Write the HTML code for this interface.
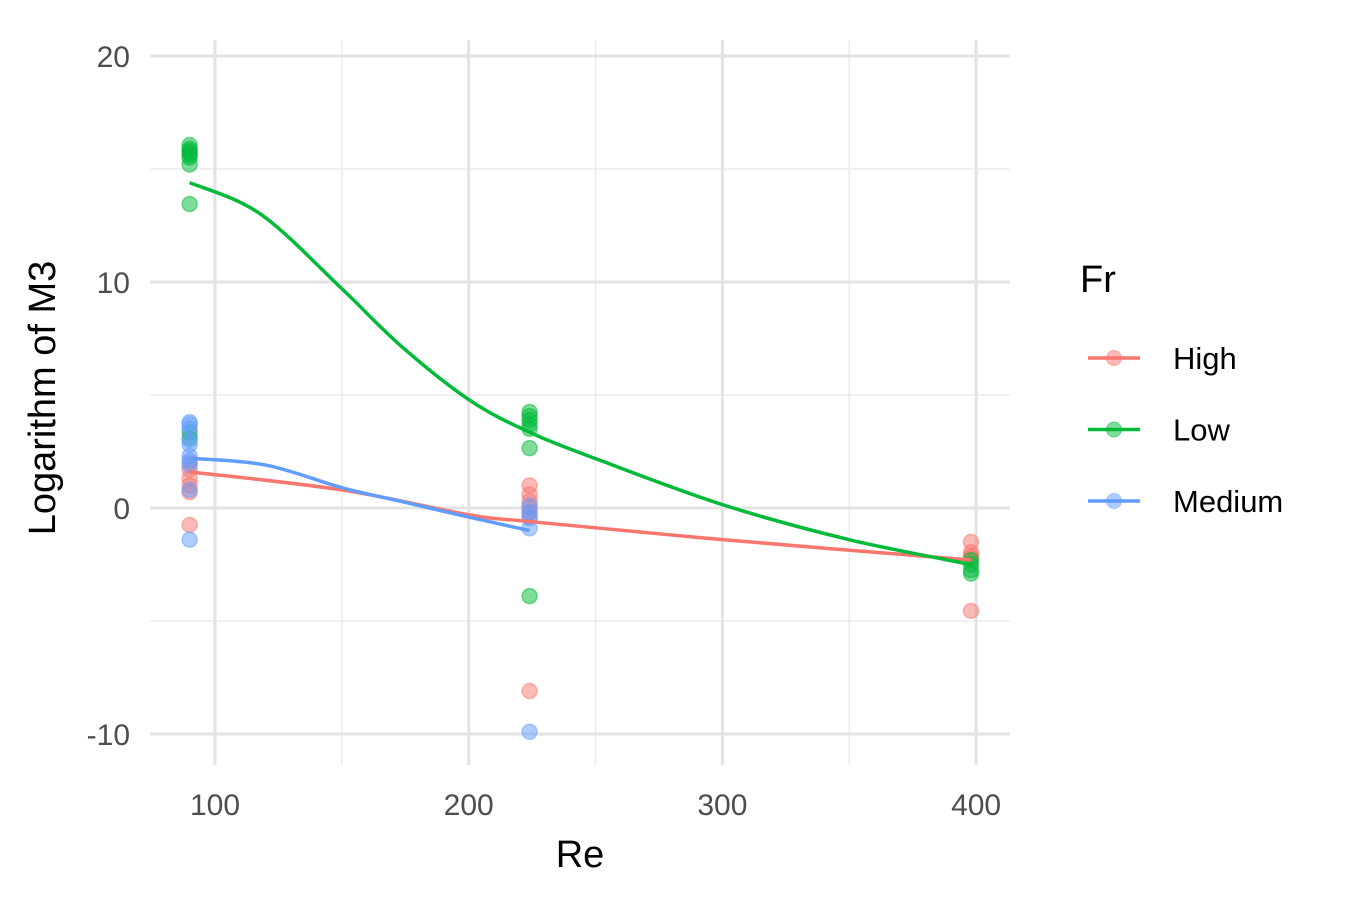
<!DOCTYPE html>
<html><head><meta charset="utf-8"><style>
body{margin:0;background:#fff;}
svg text{font-family:"Liberation Sans",Arial,sans-serif;}
</style></head><body>
<svg id="chart" width="1350" height="900"></svg>
<script>
const groups=["High","Low","Medium"];
const colors={High:"#F8766D",Low:"#00BA38",Medium:"#619CFF"};
const highX=[90,90,90,90,90,90,224,224,224,224,224,224,224,398,398,398,398,398];
const highY=[2.0,1.7,1.3,1.0,0.7,-0.75,1.0,0.6,0.3,0,-0.2,-0.4,-8.1,-1.5,-1.95,-2.1,-2.2,-4.55];
const lowX=[90,90,90,90,90,90,90,90,90,90,224,224,224,224,224,224,224,398,398,398,398];
const lowY=[16.06,15.9,15.8,15.7,15.6,15.5,15.2,13.45,3.1,3.35,4.25,4.07,3.9,3.7,3.5,2.65,-3.9,-2.3,-2.5,-2.75,-2.9];
const medX=[90,90,90,90,90,90,90,90,90,90,224,224,224,224,224];
const medY=[3.8,3.7,3.5,3.0,2.8,2.3,2.1,1.9,0.8,-1.4,0.1,-0.2,-0.45,-0.9,-9.9];
const lowSmoothX=[90,118,150,173,200,224,252,300,350,398];
const lowSmoothY=[14.4,13.0,9.7,7.2,4.8,3.35,2.1,0.15,-1.4,-2.5];
const highSmoothX=[90,150,200,224,300,398];
const highSmoothY=[1.6,0.8,-0.3,-0.6,-1.4,-2.3];
const medSmoothX=[90,120,150,173,200,224];
const medSmoothY=[2.2,1.9,0.9,0.3,-0.4,-1.0];
const xTicks=[100,200,300,400];
const yTicks=[-10,0,10,20];
const xMinor=[150,250,350];
const yMinor=[-5,5,15];

const NS="http://www.w3.org/2000/svg";
const svg=document.getElementById('chart');
const sx=v=>215+(v-100)*2.537;
const sy=v=>508-v*22.6;
const L=150,R=1010,T=40,B=765;
function mk(t,a,p){const e=document.createElementNS(NS,t);for(const k in a)e.setAttribute(k,a[k]);(p||svg).appendChild(e);return e;}
yMinor.forEach(v=>{const e=mk('line',{x1:L,x2:R,y1:sy(v),y2:sy(v),stroke:'#ebebeb','stroke-width':1.5});

});
xMinor.forEach(v=>{const e=mk('line',{x1:sx(v),x2:sx(v),y1:T,y2:B,stroke:'#ebebeb','stroke-width':1.5});

});
yTicks.forEach(v=>{const e=mk('line',{x1:L,x2:R,y1:sy(v),y2:sy(v),stroke:'#e3e3e3','stroke-width':3});


const t=mk('text',{x:130,y:sy(v)+11,'text-anchor':'end','font-size':30,fill:'#4d4d4d'});t.textContent=v;

});
xTicks.forEach(v=>{const e=mk('line',{x1:sx(v),x2:sx(v),y1:T,y2:B,stroke:'#e3e3e3','stroke-width':3});


const t=mk('text',{x:sx(v),y:815,'text-anchor':'middle','font-size':30,fill:'#4d4d4d'});t.textContent=v;

});
function pts(xs,ys,c,name){xs.forEach((x,i)=>{const e=mk('circle',{cx:sx(x),cy:sy(ys[i]),r:7.5,fill:c,'fill-opacity':0.5,stroke:c,'stroke-opacity':0.5,'stroke-width':1.5});

});}
pts(highX,highY,colors.High,'point-high');
pts(lowX,lowY,colors.Low,'point-low');
pts(medX,medY,colors.Medium,'point-medium');
function smooth(xs,ys,c,name){const p=xs.map((x,i)=>[sx(x),sy(ys[i])]);let d='M'+p[0][0]+','+p[0][1];
for(let i=0;i<p.length-1;i++){const p0=p[Math.max(0,i-1)],p1=p[i],p2=p[i+1],p3=p[Math.min(p.length-1,i+2)];
d+=` C${p1[0]+(p2[0]-p0[0])/6},${p1[1]+(p2[1]-p0[1])/6} ${p2[0]-(p3[0]-p1[0])/6},${p2[1]-(p3[1]-p1[1])/6} ${p2[0]},${p2[1]}`;}
const e=mk('path',{d:d,fill:'none',stroke:c,'stroke-width':3.5});

}
smooth(highSmoothX,highSmoothY,colors.High,'smooth-high');
smooth(lowSmoothX,lowSmoothY,colors.Low,'smooth-low');
smooth(medSmoothX,medSmoothY,colors.Medium,'smooth-medium');
let t=mk('text',{x:580,y:867,'text-anchor':'middle','font-size':38,fill:'#000'});t.textContent='Re';


t=mk('text',{x:0,y:0,'text-anchor':'middle','font-size':38,fill:'#000',transform:'translate(55,398) rotate(-90)'});t.textContent='Logarithm of M3';


t=mk('text',{x:1080,y:292,'font-size':38,fill:'#000'});t.textContent='Fr';


groups.forEach((g,i)=>{const y=358+i*71.5;
const gr=mk('g',{});


mk('line',{x1:1088,x2:1140,y1:y,y2:y,stroke:colors[g],'stroke-width':3.5},gr);
mk('circle',{cx:1114,cy:y,r:7.5,fill:colors[g],'fill-opacity':0.5,stroke:colors[g],'stroke-opacity':0.5},gr);
const tt=mk('text',{x:1173,y:y+11,'font-size':31,fill:'#000'},gr);tt.textContent=g;});
</script>
</body></html>
